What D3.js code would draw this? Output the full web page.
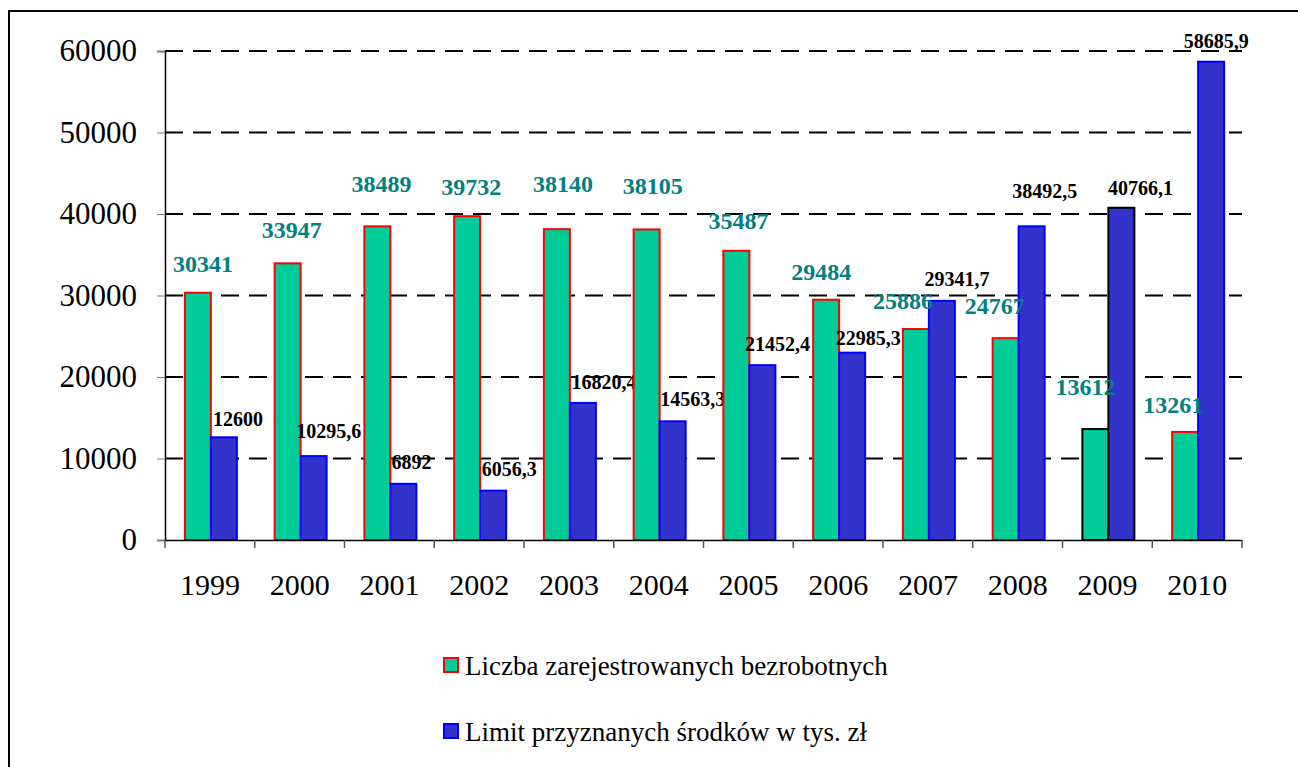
<!DOCTYPE html>
<html>
<head>
<meta charset="utf-8">
<script src="https://cdn.jsdelivr.net/npm/d3@7"></script>
<style>
  body { margin: 0; background: #FFFFFF; }
  svg { display: block; font-family: "Liberation Serif", "Times New Roman", serif; }
</style>
</head>
<body>
<svg id="chart"></svg>
<script>
const width = 1298
const height = 767

// Data
const years = ["1999", "2000", "2001", "2002", "2003", "2004", "2005", "2006", "2007", "2008", "2009", "2010"]
const unemployed = [30341, 33947, 38489, 39732, 38140, 38105, 35487, 29484, 25886, 24767, 13612, 13261]
const funds = [12600, 10295.6, 6892, 6056.3, 16820.4, 14563.3, 21452.4, 22985.3, 29341.7, 38492.5, 40766.1, 58685.9]
const yTicks = [0, 10000, 20000, 30000, 40000, 50000, 60000]
const seriesNames = ["Liczba zarejestrowanych bezrobotnych", "Limit przyznanych środków w tys. zł"]

// Label nudges (px) - hand placed labels in the original
const unemployedLabelDx = [5, 4, 4, 4, 6, 6, 2, -5, -13, -11, -10, -12]
const unemployedLabelRise = [21, 25, 34, 21, 37, 35, 22, 20, 20, 24, 34, 19]
const fundsLabelDx = [14, 15, 8, 16, 21, 20, 15, 16, 15, 13, 19, 5]
const fundsLabelRise = [11, 18, 15, 15, 14, 15, 14, 8, 15, 28, 13, 14]

// Styles
const serifFont = "'Liberation Serif', 'Times New Roman', serif"
const greenFill = "#00CC99"
const greenStroke = "#FF0000"
const blueFill = "#3333CC"
const blueStroke = "#0000FF"
const highlightYear = "2009"
const labelTeal = "#008080"

// Plot area
const plotLeft = 165
const plotRight = 1242
const plotTop = 51
const plotBottom = 540
const barWidth = 26

const svg = d3.select("#chart")
    .attr("width", width)
    .attr("height", height)

// Outer frame
svg.append("rect")
    .attr("x", 9)
    .attr("y", 11)
    .attr("width", width + 20)
    .attr("height", height + 20)
    .attr("fill", "none")
    .attr("stroke", "#000")
    .attr("stroke-width", 2)

const x = d3.scaleBand()
    .domain(years)
    .range([plotLeft, plotRight])
    .padding(0)

const xInner = d3.scaleBand()
    .domain([0, 1])
    .range([0, barWidth * 2])

const y = d3.scaleLinear()
    .domain([0, 60000])
    .range([plotBottom, plotTop])

const groupOffset = (x.bandwidth() - barWidth * 2) / 2 + 1

// Gridlines
svg.append("g")
    .selectAll("line")
    .data(yTicks.filter(t => t > 0))
    .enter()
    .append("line")
    .attr("x1", plotLeft)
    .attr("x2", plotRight)
    .attr("y1", d => y(d))
    .attr("y2", d => y(d))
    .attr("stroke", "#000")
    .attr("stroke-width", 2)
    .attr("stroke-dasharray", "18,10")

// Y axis
const yAxis = svg.append("g")
    .attr("transform", `translate(${plotLeft},0)`)
    .call(d3.axisLeft(y).tickValues(yTicks).tickSize(8).tickPadding(20).tickFormat(d3.format("d")))
yAxis.attr("font-family", serifFont)
yAxis.select(".domain").attr("stroke", "#000").attr("stroke-width", 1.5)
yAxis.selectAll(".tick line").attr("stroke", "#777")
yAxis.selectAll(".tick text")
    .attr("font-size", 31)
    .attr("fill", "#000")

// Bars
const groups = svg.append("g")
    .selectAll("g")
    .data(years)
    .enter()
    .append("g")
    .attr("transform", d => `translate(${x(d) + groupOffset},0)`)

groups.append("rect")
    .attr("x", xInner(0))
    .attr("y", (d, i) => y(unemployed[i]))
    .attr("width", barWidth)
    .attr("height", (d, i) => plotBottom - y(unemployed[i]))
    .attr("fill", greenFill)
    .attr("stroke", d => d === highlightYear ? "#000" : greenStroke)
    .attr("stroke-width", 2)

groups.append("rect")
    .attr("x", xInner(1))
    .attr("y", (d, i) => y(funds[i]))
    .attr("width", barWidth)
    .attr("height", (d, i) => plotBottom - y(funds[i]))
    .attr("fill", blueFill)
    .attr("stroke", d => d === highlightYear ? "#000" : blueStroke)
    .attr("stroke-width", 2)

// X axis
const xAxis = svg.append("g")
    .attr("transform", `translate(0,${plotBottom})`)
    .call(d3.axisBottom(x).tickSize(0).tickPadding(55))
xAxis.attr("font-family", serifFont)
xAxis.select(".domain").attr("stroke", "#000").attr("stroke-width", 1.5)
xAxis.selectAll(".tick text")
    .attr("font-size", 30)
    .attr("fill", "#000")
    .attr("dy", "0")

xAxis.selectAll(".boundary")
    .data(d3.range(years.length + 1))
    .enter()
    .append("line")
    .attr("class", "boundary")
    .attr("x1", i => plotLeft + i * x.step())
    .attr("x2", i => plotLeft + i * x.step())
    .attr("y1", 0)
    .attr("y2", 8)
    .attr("stroke", "#555")
    .attr("stroke-width", 1.5)

// Value labels
const numberFormat = v => String(v).replace(".", ",")

groups.append("text")
    .attr("x", (d, i) => xInner(0) + barWidth / 2 + unemployedLabelDx[i])
    .attr("y", (d, i) => y(unemployed[i]) - unemployedLabelRise[i])
    .attr("text-anchor", "middle")
    .attr("font-size", 24)
    .attr("font-weight", "bold")
    .attr("fill", labelTeal)
    .text((d, i) => numberFormat(unemployed[i]))

groups.append("text")
    .attr("x", (d, i) => xInner(1) + barWidth / 2 + fundsLabelDx[i])
    .attr("y", (d, i) => y(funds[i]) - fundsLabelRise[i])
    .attr("text-anchor", "middle")
    .attr("font-size", 20)
    .attr("font-weight", "bold")
    .attr("fill", "#000")
    .text((d, i) => numberFormat(funds[i]))

// Legend
const legend = svg.append("g")
    .selectAll("g")
    .data(seriesNames)
    .enter()
    .append("g")
    .attr("transform", (d, i) => `translate(443,${657 + i * 66})`)

legend.append("rect")
    .attr("x", 1)
    .attr("y", 1)
    .attr("width", 14)
    .attr("height", 14)
    .attr("fill", (d, i) => i === 0 ? greenFill : blueFill)
    .attr("stroke", (d, i) => i === 0 ? greenStroke : blueStroke)
    .attr("stroke-width", 2)

legend.append("text")
    .attr("x", 22)
    .attr("y", 18)
    .attr("font-size", 27)
    .attr("fill", "#000")
    .text(d => d)
</script>
</body>
</html>
